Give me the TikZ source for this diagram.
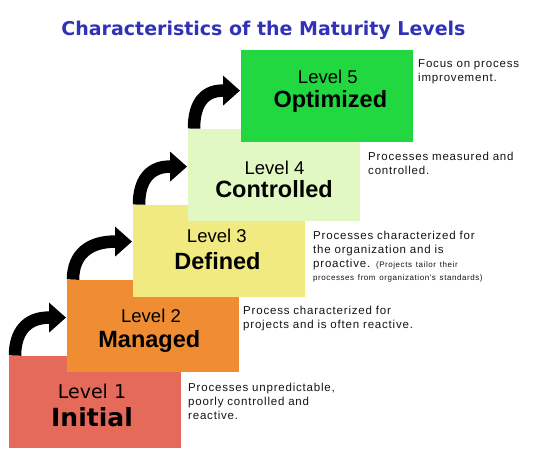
\documentclass[tikz,border=0pt]{standalone}
\usepackage{fontspec}
\setmainfont{Liberation Sans}
\newfontfamily\verdana{DejaVu Sans}
\newfontfamily\descfont[LetterSpace=7]{Liberation Sans}
\usetikzlibrary{calc,arrows.meta}
\definecolor{titleblue}{RGB}{50,50,185}
\definecolor{initialred}{RGB}{230,106,90}
\definecolor{managedorange}{RGB}{240,140,50}
\definecolor{definedyellow}{RGB}{240,234,128}
\definecolor{controlledgreen}{RGB}{226,248,194}
\definecolor{optimizedgreen}{RGB}{34,216,64}
\begin{document}
\begin{tikzpicture}[x=1pt,y=1pt,
  lvlbox/.style={rectangle, anchor=south west, inner sep=0, minimum width=172pt, minimum height=92pt},
  lvlnum/.style={anchor=base, inner sep=0, font=\fontsize{18.5}{22}\selectfont},
  lvlname/.style={anchor=base, inner sep=0, font=\bfseries\fontsize{23.5}{28}\selectfont},
  desc/.style={anchor=base west, inner sep=0, text width=200pt, align=left, text=black!92, font=\descfont\fontsize{11.5}{14}\selectfont},
  stepup/.style={line width=12.5pt, -{Triangle[width=29pt,length=17pt]}}]
\fill[white] (0,0) rectangle (537,460);
\useasboundingbox (0,0) rectangle (537,460);
\node[text=titleblue, anchor=base, inner sep=0, font=\verdana\bfseries\fontsize{19}{23}\selectfont] (title) at (263.5,424.3) {Characteristics of the Maturity Levels};
% the five steps
\node[lvlbox, fill=initialred] (one) at (9,12) {};
\node[lvlbox, fill=managedorange] (two) at (67,88) {};
\node[lvlbox, fill=definedyellow] (three) at (133,163) {};
\node[lvlbox, fill=controlledgreen] (four) at (188,239) {};
\node[lvlbox, fill=optimizedgreen] (five) at (241,318) {};
% arrows up the stairs
\foreach \lo/\hi in {one/two,two/three,three/four,four/five}{
  \coordinate (s) at ($(\lo.north west)+(6,0)$);
  \draw[stepup] (s) to[out=90,in=180,looseness=1.15] ($(\hi.west |- s)+(-18,38)$) -- ($(\hi.west |- s)+(-1,38)$);
}
% step labels
\node[lvlnum, font=\verdana\fontsize{19}{22}\selectfont] (one-num) at (92,61.7) {Level 1};
\node[lvlname, font=\verdana\bfseries\fontsize{25}{30}\selectfont] (one-name) at (92,34) {Initial};
\node[lvlnum] (two-num) at (151,137.3) {Level 2};
\node[lvlname] (two-name) at (149.3,112.3) {Managed};
\node[lvlnum] (three-num) at (216.8,217.3) {Level 3};
\node[lvlname] (three-name) at (217.5,190.7) {Defined};
\node[lvlnum] (four-num) at (274.5,285) {Level 4};
\node[lvlname] (four-name) at (274,262.7) {Controlled};
\node[lvlnum] (five-num) at (327.8,376) {Level 5};
\node[lvlname] (five-name) at (330.3,352.3) {Optimized};
% descriptions
\node[desc] (one-desc) at (188,69) {Processes unpredictable,\\ poorly controlled and\\ reactive.};
\node[desc] (two-desc) at (243,145.7) {Process characterized for\\ projects and is often reactive.};
\node[desc] (three-desc) at (313,220.7) {Processes characterized for\\ the organization and is\\ proactive. {\fontsize{8}{10}\selectfont (Projects tailor their}\\[-1pt] {\fontsize{8}{10}\selectfont processes from organization's standards)}};
\node[desc] (four-desc) at (368,299.3) {Processes measured and\\ controlled.};
\node[desc] (five-desc) at (418,392) {Focus on process\\ improvement.};
\end{tikzpicture}
\end{document}
